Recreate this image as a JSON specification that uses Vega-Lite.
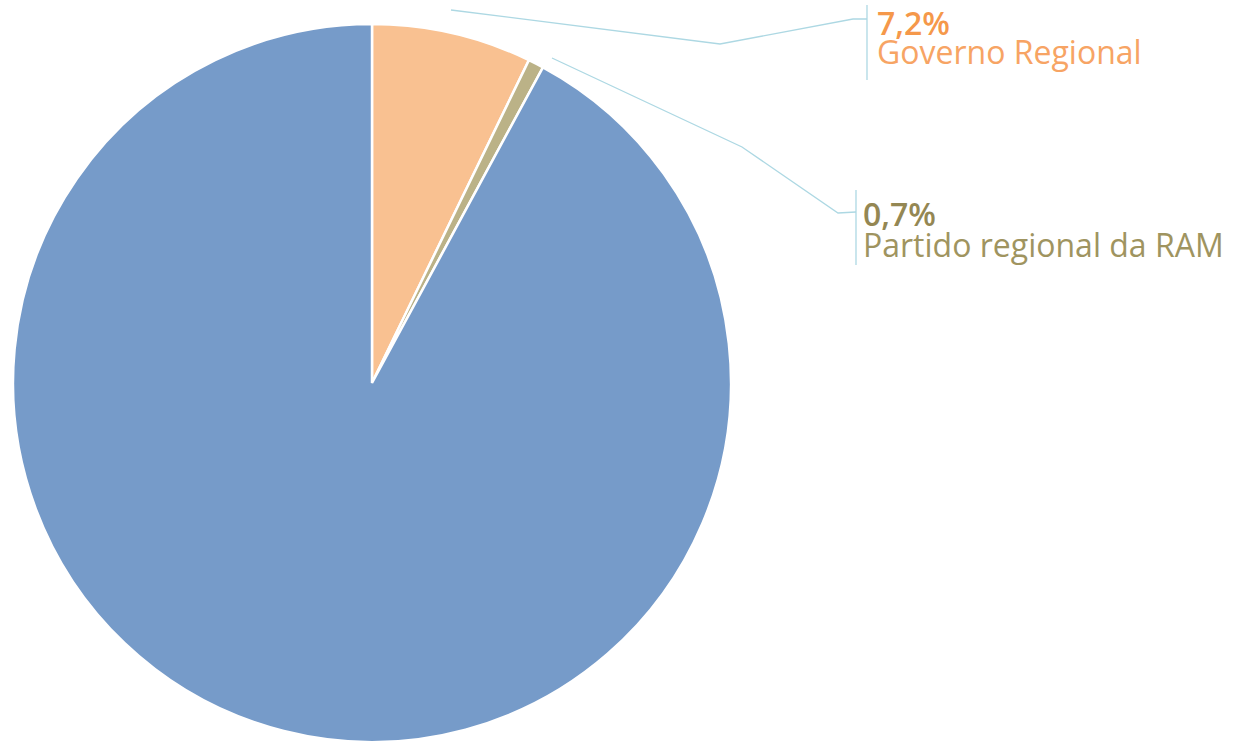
{
  "$schema": "https://vega.github.io/schema/vega-lite/v6.json",
  "width": 1233,
  "height": 741,
  "padding": 0,
  "autosize": {"type": "none"},
  "background": "white",
  "config": {"view": {"stroke": null}, "font": "Open Sans"},
  "datasets": {
    "fatias": [
      {"categoria": "Governo Regional", "pct": 7.2, "ordem": 1},
      {"categoria": "Partido regional da RAM", "pct": 0.7, "ordem": 2},
      {"categoria": "Outros", "pct": 92.1, "ordem": 3}
    ],
    "guias": [
      {"guia": "Governo Regional", "passo": 1, "x": 451, "y": 10},
      {"guia": "Governo Regional", "passo": 2, "x": 720, "y": 44},
      {"guia": "Governo Regional", "passo": 3, "x": 853, "y": 19},
      {"guia": "Governo Regional", "passo": 4, "x": 867, "y": 19},
      {"guia": "Partido regional da RAM", "passo": 1, "x": 552, "y": 58},
      {"guia": "Partido regional da RAM", "passo": 2, "x": 742, "y": 147},
      {"guia": "Partido regional da RAM", "passo": 3, "x": 838, "y": 213},
      {"guia": "Partido regional da RAM", "passo": 4, "x": 856, "y": 212}
    ],
    "barras": [
      {"categoria": "Governo Regional", "x": 867, "y": 5, "y2": 80},
      {"categoria": "Partido regional da RAM", "x": 856, "y": 190, "y2": 265}
    ],
    "percentagens": [
      {"categoria": "Governo Regional", "texto": "7,2%", "x": 877, "y": 35},
      {"categoria": "Partido regional da RAM", "texto": "0,7%", "x": 863, "y": 226}
    ],
    "nomes": [
      {"categoria": "Governo Regional", "texto": "Governo Regional", "x": 877, "y": 64},
      {"categoria": "Partido regional da RAM", "texto": "Partido regional da RAM", "x": 863, "y": 257}
    ]
  },
  "layer": [
    {
      "data": {"name": "fatias"},
      "mark": {"type": "arc", "x": 372, "y": 383, "outerRadius": 359, "stroke": "white", "strokeWidth": 2.5},
      "encoding": {
        "theta": {"field": "pct", "type": "quantitative", "stack": true},
        "order": {"field": "ordem", "type": "quantitative"},
        "color": {
          "field": "categoria", "type": "nominal", "legend": null,
          "scale": {"domain": ["Governo Regional", "Partido regional da RAM", "Outros"], "range": ["#F9C191", "#BBB287", "#769BC9"]}
        }
      }
    },
    {
      "data": {"name": "guias"},
      "mark": {"type": "line", "color": "#ADD8E3", "strokeWidth": 1.3},
      "encoding": {
        "x": {"field": "x", "type": "quantitative", "scale": {"domain": [0, 1233], "nice": false, "zero": false}, "axis": null},
        "y": {"field": "y", "type": "quantitative", "scale": {"domain": [0, 741], "nice": false, "zero": false, "reverse": true}, "axis": null},
        "detail": {"field": "guia", "type": "nominal"},
        "order": {"field": "passo", "type": "quantitative"}
      }
    },
    {
      "data": {"name": "barras"},
      "mark": {"type": "rule", "color": "#ADD8E3", "strokeWidth": 1.3},
      "encoding": {
        "x": {"field": "x", "type": "quantitative"},
        "y": {"field": "y", "type": "quantitative"},
        "y2": {"field": "y2"}
      }
    },
    {
      "data": {"name": "percentagens"},
      "mark": {"type": "text", "align": "left", "baseline": "alphabetic", "fontSize": 32, "fontWeight": 600},
      "encoding": {
        "x": {"field": "x", "type": "quantitative"},
        "y": {"field": "y", "type": "quantitative"},
        "text": {"field": "texto", "type": "nominal"},
        "color": {
          "field": "categoria", "type": "nominal", "legend": null,
          "scale": {"domain": ["Governo Regional", "Partido regional da RAM"], "range": ["#F5984A", "#948753"]}
        }
      }
    },
    {
      "data": {"name": "nomes"},
      "mark": {"type": "text", "align": "left", "baseline": "alphabetic", "fontSize": 32},
      "encoding": {
        "x": {"field": "x", "type": "quantitative"},
        "y": {"field": "y", "type": "quantitative"},
        "text": {"field": "texto", "type": "nominal"},
        "color": {
          "field": "categoria", "type": "nominal", "legend": null,
          "scale": {"domain": ["Governo Regional", "Partido regional da RAM"], "range": ["#F7A464", "#9F9460"]}
        }
      }
    }
  ],
  "resolve": {"scale": {"color": "independent"}}
}
